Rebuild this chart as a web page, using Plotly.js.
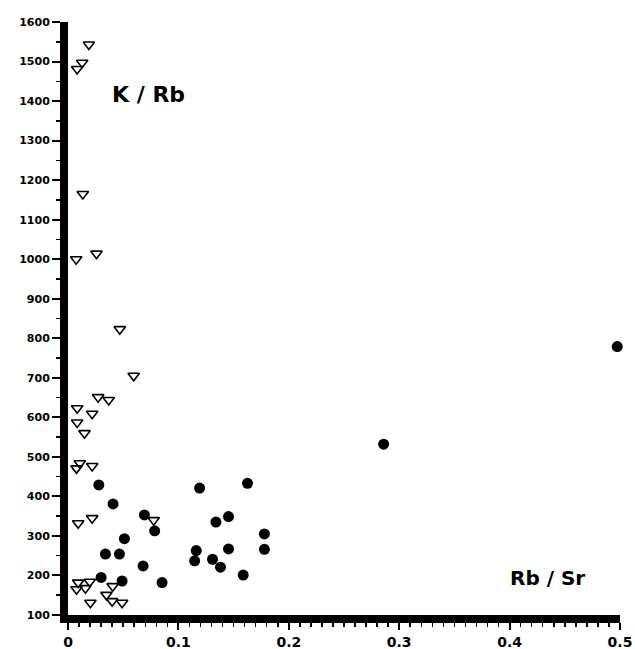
<!DOCTYPE html>
<html><head><meta charset="utf-8">
<script src="https://cdn.plot.ly/plotly-3.0.1.min.js"></script>
<style>html,body{margin:0;padding:0;background:#fff}#c{width:635px;height:649px}</style>
</head><body><div id="c"></div>
<script>
// Open triangles (Rb/Sr, K/Rb)
const triX = [0.0189,0.0128,0.0083,0.0134,0.0074,0.0258,0.0469,0.0595,0.0273,0.0369,0.0083,0.0219,0.0083,0.0149,0.0107,0.0077,0.0219,0.0092,0.0219,0.0776,0.0092,0.0077,0.0158,0.0197,0.0203,0.0405,0.0348,0.0400,0.0490];
const triY = [1543,1497,1481,1165,1000,1014,823,705,651,644,623,609,587,560,484,471,477,332,345,340,182,165,168,184,131,173,151,135,131];
// Filled circles
const dotX = [0.0279,0.0408,0.0692,0.0785,0.0511,0.0339,0.0466,0.0680,0.0300,0.0490,0.0852,0.1192,0.1162,0.1147,0.1626,0.1454,0.1340,0.1779,0.1454,0.1779,0.1309,0.1381,0.1587,0.2859,0.4975];
const dotY = [429,381,353,313,293,254,254,224,195,186,182,421,263,237,433,349,335,305,267,266,241,221,201,532,779];
const xTicks = [0,0.1,0.2,0.3,0.4,0.5];
const xTickText = ['0','0.1','0.2','0.3','0.4','0.5'];
const yTicks = [100,200,300,400,500,600,700,800,900,1000,1100,1200,1300,1400,1500,1600];

const fam = 'DejaVu Sans, Arial, sans-serif';
const data = [
  {x:triX, y:triY, type:'scatter', mode:'markers', cliponaxis:false,
   marker:{symbol:'triangle-down-open', size:10, color:'#000', line:{width:1.6,color:'#000'}}},
  {x:dotX, y:dotY, type:'scatter', mode:'markers', cliponaxis:false,
   marker:{symbol:'circle', size:11, color:'#000', line:{width:0}}}
];
const layout = {
  width:635, height:649, showlegend:false,
  paper_bgcolor:'#fff', plot_bgcolor:'#fff',
  margin:{l:68, r:15, t:22, b:34},
  font:{family:fam, size:12, color:'#000'},
  xaxis:{range:[0,0.5], showgrid:false, zeroline:false, showline:true, linewidth:8, linecolor:'#000',
    ticks:'outside', ticklen:7, tickwidth:2, tickcolor:'#000', tickvals:xTicks, ticktext:xTickText,
    tickfont:{family:fam, size:14, color:'#000', weight:'bold'},
    minor:{dtick:0.01, ticks:'outside', ticklen:4, tickwidth:1.5, tickcolor:'#000', showgrid:false}},
  yaxis:{range:[100,1600], showgrid:false, zeroline:false, showline:true, linewidth:8, linecolor:'#000',
    ticks:'outside', ticklen:8, tickwidth:2, tickcolor:'#000', tickvals:yTicks,
    tickfont:{family:fam, size:11, color:'#000', weight:'bold'},
    minor:{dtick:50, ticks:'outside', ticklen:4, tickwidth:1.5, tickcolor:'#000', showgrid:false}},
  annotations:[
    {text:'K / Rb', xref:'paper', yref:'paper', x:0.076, y:0.877, xanchor:'left', yanchor:'middle',
     showarrow:false, font:{family:fam, size:22, color:'#000', weight:'bold'}},
    {text:'Rb / Sr', xref:'paper', yref:'paper', x:0.940, y:0.062, xanchor:'right', yanchor:'middle',
     showarrow:false, font:{family:fam, size:20, color:'#000', weight:'bold'}}
  ]
};
Plotly.newPlot('c', data, layout, {staticPlot:true});
</script></body></html>
